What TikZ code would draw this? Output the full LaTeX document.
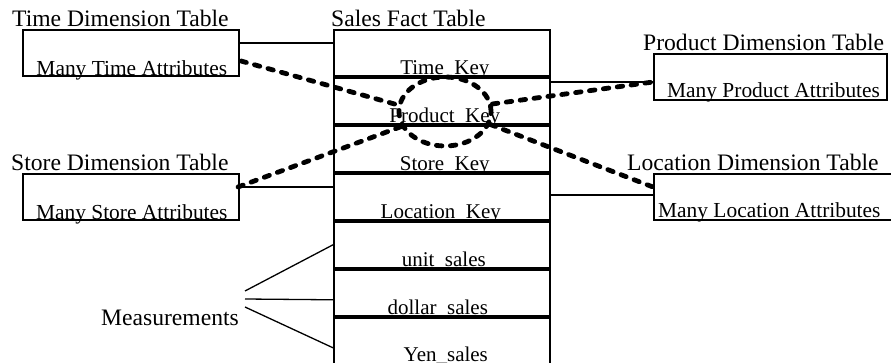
\documentclass[tikz,border=0pt]{standalone}
\usepackage{fontspec}
\setmainfont{Liberation Serif}
\usetikzlibrary{shapes.geometric}
\begin{document}
\begin{tikzpicture}[x=1pt,y=-1pt,
  box/.style={draw, line width=1.6pt, rectangle, inner sep=0pt, anchor=north west},
  factrow/.style={box, minimum width=216pt, minimum height=46pt},
  dimbox/.style={box, minimum height=46pt},
  title/.style={font=\fontsize{23.6}{26}\selectfont, inner sep=0pt, anchor=base west},
  content/.style={font=\fontsize{21.4}{24}\selectfont, inner sep=0pt, anchor=base},
  rowtext/.style={font=\fontsize{21}{24}\selectfont, inner sep=0pt, anchor=base},
  wire/.style={line width=1.3pt},
  link/.style={line width=4.8pt, dash pattern=on 5.5pt off 8.5pt, line cap=round}]
\useasboundingbox (0,0) rectangle (891,363);

% Sales fact table: seven stacked rows
\node[factrow] (r1) at (333,29)  {};
\node[factrow] (r2) at (333,77)  {};
\node[factrow] (r3) at (333,125) {};
\node[factrow] (r4) at (333,173) {};
\node[factrow] (r5) at (333,221) {};
\node[factrow] (r6) at (333,269) {};
\node[factrow] (r7) at (333,317) {};
\node[title] (facttitle) at (331,27) {Sales Fact Table};
\node[rowtext] (k1) at ([xshift=3pt,yshift=1.8pt]r1.south) {Time\_Key};
\node[rowtext] (k2) at ([xshift=3pt,yshift=1.8pt]r2.south) {Product\_Key};
\node[rowtext] (k3) at ([xshift=3pt,yshift=1.8pt]r3.south) {Store\_Key};
\node[rowtext] (k4) at ([xshift=-1pt,yshift=1.8pt]r4.south) {Location\_Key};
\node[rowtext] (k5) at ([xshift=2pt,yshift=1.8pt]r5.south) {unit\_sales};
\node[rowtext] (k6) at ([xshift=-4pt,yshift=1.8pt]r6.south) {dollar\_sales};
\node[rowtext] (k7) at ([xshift=4pt,yshift=3pt]r7.south) {Yen\_sales};

% Dimension tables
\node[dimbox, minimum width=216pt] (timebox) at (22,29) {};
\node[title] (timetitle) at (12,27) {Time Dimension Table};
\node[content] (timetext) at ([xshift=1pt,yshift=1.5pt]timebox.south) {Many Time Attributes};

\node[dimbox, minimum width=216pt] (storebox) at (22,173) {};
\node[title] (storetitle) at (11,171) {Store Dimension Table};
\node[content] (storetext) at ([xshift=1pt,yshift=1.5pt]storebox.south) {Many Store Attributes};

\node[dimbox, minimum width=233pt] (prodbox) at (653,53) {};
\node[title] (prodtitle) at (643,51) {Product Dimension Table};
\node[content, anchor=base west] (prodtext) at (667,97.5) {Many Product Attributes};

\node[dimbox, minimum width=242pt] (locbox) at (653,173) {};
\node[title] (loctitle) at (627,171) {Location Dimension Table};
\node[content, anchor=base west] (loctext) at (658,217.5) {Many Location Attributes};

% Key joins
\draw[wire] ([yshift=-14pt]timebox.north east) -- ([yshift=-14pt]r1.north west);
\draw[wire] ([yshift=-14pt]storebox.north east) -- ([yshift=-14pt]r4.north west);
\coordinate (pj) at ([yshift=-29pt]prodbox.north west);
\draw[wire] (pj) -- (pj -| r2.east);
\coordinate (lj) at ([yshift=-22pt]locbox.north west);
\draw[wire] (lj) -- (lj -| r4.east);

% Measurements brace
\node[title] (meas) at (101,325) {Measurements};
\coordinate (m1) at (245,291);
\coordinate (m2) at (245,299);
\coordinate (m3) at (245,307);
\draw[wire] (m1) -- (r5.west);
\draw[wire] (m2) -- ([yshift=-7pt]r6.west);
\draw[wire] (m3) -- ([yshift=-7pt]r7.west);

% Star links through the product key
\node[draw, link, ellipse, inner sep=0pt, minimum width=92pt, minimum height=69pt] (loop) at (445,111.5) {};
\coordinate (ta) at (241,61);
\coordinate (sa) at (238,187);
\coordinate (pa) at (653,82);
\coordinate (la) at (653,187);
\draw[link] (ta) -- (loop.172);
\draw[link] (sa) -- (loop.199);
\draw[link] (loop.9) -- (pa);
\draw[link] (loop.344) -- (la);
\end{tikzpicture}
\end{document}
